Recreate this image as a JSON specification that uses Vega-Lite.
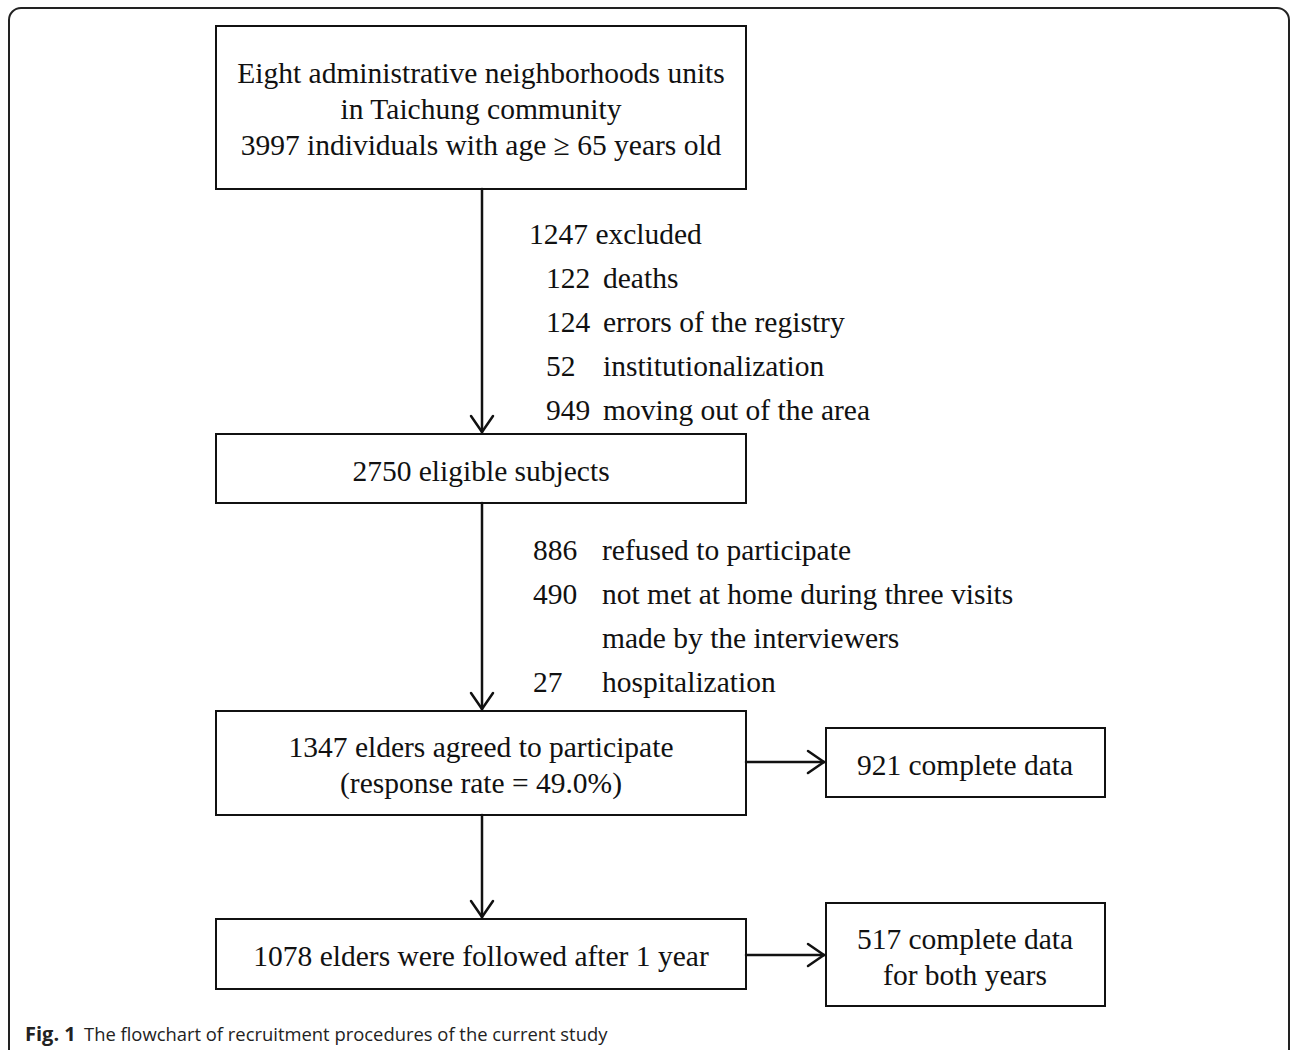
{
  "$schema": "https://vega.github.io/schema/vega-lite/v6.json",
  "autosize": {"type": "fit", "contains": "padding"},
  "width": 1290,
  "height": 1050,
  "padding": 0,
  "background": "white",
  "config": {"view": {"stroke": null}},
  "datasets": {
    "frame": [{"x1": 9, "x2": 1289, "y1": 8, "y2": 1090}],
    "boxes": [
      {"id": "start", "x1": 216, "x2": 746, "y1": 26, "y2": 189},
      {"id": "eligible", "x1": 216, "x2": 746, "y1": 434, "y2": 503},
      {"id": "agreed", "x1": 216, "x2": 746, "y1": 711, "y2": 815},
      {"id": "followed", "x1": 216, "x2": 746, "y1": 919, "y2": 989},
      {"id": "complete1", "x1": 826, "x2": 1105, "y1": 728, "y2": 797},
      {"id": "complete2", "x1": 826, "x2": 1105, "y1": 903, "y2": 1006}
    ],
    "lines": [
      {"seg": "a1", "x1": 482, "y1": 189, "x2": 482, "y2": 432},
      {"seg": "a1l", "x1": 471, "y1": 416, "x2": 482, "y2": 432},
      {"seg": "a1r", "x1": 493, "y1": 416, "x2": 482, "y2": 432},
      {"seg": "a2", "x1": 482, "y1": 503, "x2": 482, "y2": 709},
      {"seg": "a2l", "x1": 471, "y1": 693, "x2": 482, "y2": 709},
      {"seg": "a2r", "x1": 493, "y1": 693, "x2": 482, "y2": 709},
      {"seg": "a3", "x1": 482, "y1": 815, "x2": 482, "y2": 917},
      {"seg": "a3l", "x1": 471, "y1": 901, "x2": 482, "y2": 917},
      {"seg": "a3r", "x1": 493, "y1": 901, "x2": 482, "y2": 917},
      {"seg": "h1", "x1": 746, "y1": 762, "x2": 824, "y2": 762},
      {"seg": "h1u", "x1": 808, "y1": 751, "x2": 824, "y2": 762},
      {"seg": "h1d", "x1": 808, "y1": 773, "x2": 824, "y2": 762},
      {"seg": "h2", "x1": 746, "y1": 955, "x2": 824, "y2": 955},
      {"seg": "h2u", "x1": 808, "y1": 944, "x2": 824, "y2": 955},
      {"seg": "h2d", "x1": 808, "y1": 966, "x2": 824, "y2": 955}
    ],
    "centered": [
      {"x": 481, "y": 83, "text": "Eight administrative neighborhoods units"},
      {"x": 481, "y": 119, "text": "in Taichung community"},
      {"x": 481, "y": 155, "text": "3997 individuals with age ≥ 65 years old"},
      {"x": 481, "y": 481, "text": "2750 eligible subjects"},
      {"x": 481, "y": 757, "text": "1347 elders agreed to participate"},
      {"x": 481, "y": 793, "text": "(response rate = 49.0%)"},
      {"x": 965, "y": 775, "text": "921 complete data"},
      {"x": 481, "y": 966, "text": "1078 elders were followed after 1 year"},
      {"x": 965, "y": 949, "text": "517 complete data"},
      {"x": 965, "y": 985, "text": "for both years"}
    ],
    "left": [
      {"x": 529, "y": 244, "text": "1247 excluded"},
      {"x": 546, "y": 288, "text": "122"},
      {"x": 603, "y": 288, "text": "deaths"},
      {"x": 546, "y": 332, "text": "124"},
      {"x": 603, "y": 332, "text": "errors of the registry"},
      {"x": 546, "y": 376, "text": "52"},
      {"x": 603, "y": 376, "text": "institutionalization"},
      {"x": 546, "y": 420, "text": "949"},
      {"x": 603, "y": 420, "text": "moving out of the area"},
      {"x": 533, "y": 560, "text": "886"},
      {"x": 602, "y": 560, "text": "refused to participate"},
      {"x": 533, "y": 604, "text": "490"},
      {"x": 602, "y": 604, "text": "not met at home during three visits"},
      {"x": 602, "y": 648, "text": "made by the interviewers"},
      {"x": 533, "y": 692, "text": "27"},
      {"x": 602, "y": 692, "text": "hospitalization"}
    ],
    "caption_bold": [{"x": 25, "y": 1041, "text": "Fig. 1"}],
    "caption": [{"x": 84, "y": 1041, "text": "The flowchart of recruitment procedures of the current study"}]
  },
  "layer": [
    {
      "data": {"name": "frame"},
      "mark": {"type": "rect", "fill": null, "stroke": "#222222", "strokeWidth": 2, "cornerRadius": 12, "clip": true},
      "encoding": {
        "x": {"field": "x1", "type": "quantitative", "scale": {"domain": [0, 1290], "nice": false, "zero": false}, "axis": null},
        "x2": {"field": "x2"},
        "y": {"field": "y1", "type": "quantitative", "scale": {"domain": [0, 1050], "nice": false, "zero": false, "reverse": true}, "axis": null},
        "y2": {"field": "y2"}
      }
    },
    {
      "data": {"name": "boxes"},
      "mark": {"type": "rect", "fill": "white", "stroke": "#111111", "strokeWidth": 2},
      "encoding": {
        "x": {"field": "x1", "type": "quantitative"},
        "x2": {"field": "x2"},
        "y": {"field": "y1", "type": "quantitative"},
        "y2": {"field": "y2"}
      }
    },
    {
      "data": {"name": "lines"},
      "mark": {"type": "rule", "stroke": "#111111", "strokeWidth": 2.5, "strokeCap": "round"},
      "encoding": {
        "x": {"field": "x1", "type": "quantitative"},
        "x2": {"field": "x2"},
        "y": {"field": "y1", "type": "quantitative"},
        "y2": {"field": "y2"}
      }
    },
    {
      "data": {"name": "centered"},
      "mark": {"type": "text", "font": "Liberation Serif", "fontSize": 29.5, "align": "center", "baseline": "alphabetic", "color": "#111111"},
      "encoding": {
        "x": {"field": "x", "type": "quantitative"},
        "y": {"field": "y", "type": "quantitative"},
        "text": {"field": "text"}
      }
    },
    {
      "data": {"name": "left"},
      "mark": {"type": "text", "font": "Liberation Serif", "fontSize": 29.5, "align": "left", "baseline": "alphabetic", "color": "#111111"},
      "encoding": {
        "x": {"field": "x", "type": "quantitative"},
        "y": {"field": "y", "type": "quantitative"},
        "text": {"field": "text"}
      }
    },
    {
      "data": {"name": "caption_bold"},
      "mark": {"type": "text", "font": "Open Sans", "fontSize": 20, "fontWeight": "bold", "align": "left", "baseline": "alphabetic", "color": "#222222"},
      "encoding": {
        "x": {"field": "x", "type": "quantitative"},
        "y": {"field": "y", "type": "quantitative"},
        "text": {"field": "text"}
      }
    },
    {
      "data": {"name": "caption"},
      "mark": {"type": "text", "font": "Open Sans", "fontSize": 18.4, "align": "left", "baseline": "alphabetic", "color": "#222222"},
      "encoding": {
        "x": {"field": "x", "type": "quantitative"},
        "y": {"field": "y", "type": "quantitative"},
        "text": {"field": "text"}
      }
    }
  ]
}
